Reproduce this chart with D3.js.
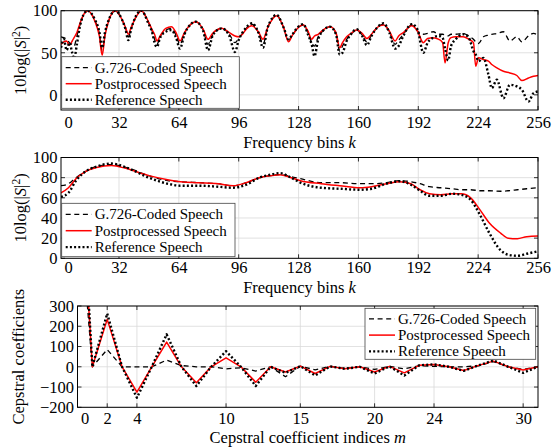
<!DOCTYPE html>
<html><head><meta charset="utf-8">
<script src="https://cdn.jsdelivr.net/npm/d3@7"></script>
<style>body{margin:0;background:#fff}svg{display:block}text{font-family:"Liberation Serif","DejaVu Serif",serif;fill:#000}</style>
</head><body>
<script>
// ---- Data ----
const seriesNames = ["G.726-Coded Speech", "Postprocessed Speech", "Reference Speech"];

// Panel 1: 10log(|S|^2) vs frequency bins k
const kTop = [1,2.5,4,5.5,7,8,9.5,11,13,15.3,19,21.5,23,24.5,26.5,30,33.5,35.5,37,38.5,40.5,44,47.5,50,51,52.3,54,57,60,62.5,64.6,67,70,73,77,79.6,82,84,87,91,94,96,98,100,103,106.5,109,111.5,116.3,120,122.6,124.5,127,130.5,133,135,136.5,138.5,141,144.8,148,150,151.5,153.7,156,159,162,164.5,167,170,173.4,176.5,179.6,181.5,184,188.5,191.5,194.7,197,200,203,205,206.3,208,209.5,212,216,219,221.5,222.7,224.2,226.8,229.5,231.3,234,237.5,241,244.7,247.4,250.9,253.6,256];
const topPost = [60,63,64,59,64,68,74,84,95,100,88,70,47,70,88,100,90,80,72,80,90,100,88,76,72,64,70,79,81,74,64,74,83,87,78,66,73,77,79,74,70,69,72,78,82,75,66,80,94,80,63,70,78,83,76,66,70,72,77,81,74,56,62,69,73,77,73,67,72,80,83,76,64,70,74,82,76,62,67,68,66,62,38,62,68,69,69,66,62,34,44,42,40,36,32,28,26,23,17,20,22,23];
const topRef = [56,66,53,62,50,43,60,80,95,100,90,75,56,74,89,100,90,78,65,78,91,100,86,72,62,57,68,75,77,68,55,72,83,87,76,53,70,76,79,70,51,65,74,80,85,74,56,80,95,80,66,71,79,84,72,60,46,66,76,81,72,48,50,64,72,78,70,59,70,80,85,74,55,58,70,84,78,50,62,68,70,68,55,41,58,66,72,68,52,48,40,44,24,8,18,-4,12,10,6,-8,2,4];
const topCoded = [69,68,66,62,60,58,70,82,95,100,89,73,52,72,88,100,90,79,69,79,90,100,87,74,66,60,69,77,79,71,60,73,83,87,77,60,71,76,79,72,62,67,73,79,84,74,60,80,94,80,65,70,78,83,74,62,58,69,76,81,73,52,58,66,72,77,71,63,71,80,84,75,60,65,72,83,76,72,73,75,72,72,71,70,72,72,73,70,66,63,61,69,71,72,73,75,64,69,63,70,73,71];

// Panel 2: smoothed envelope
const kMid = [1,5,9,14,20,28,36,48,58,65,75,85,93,100,107,113,118,124,129,140,150,161,167,175,182,188,193,198,204,210,215,220,225,230,236,240,245,250,256];
const midPost = [65,70,79,86,90,92,89,82,78,76,75,74,72,75,80,82,83,80,77,74,72,70,71,74,76,74,68,64,63,64,64,60,48,35,25,20,19.5,21.5,22];
const midRef = [61,65,77,86,91,94,90,80,74,72,72,71,70,73,80,83,84.5,80,75,70,69,68,69,74,76.5,73,67,62,62,64,63,58,43,25,8,3.5,2.5,4.5,7];
const midCoded = [72,74,80,86,91,93,90,82,77,76,75,74,72,75,80,82,83,81,79,75,75,74,74,75,77,76,74,71,70,69,68,68,67,67,66.5,67,68,69,70];

// Panel 3: cepstral coefficients c(m), m = 0..31
const mIdx = d3.range(0, 32);
const cepPost = [1200,0,234,0,-125,0,122,0,-79,0,44,0,-76,0,-26,3,-33,2,-10,0,-26,2,-30,7,11,0,-18,7,28,0,-16,0];
const cepRef = [1300,0,263,0,-153,0,160,0,-95,0,77,0,-95,0,-30,3,-43,2,-10,0,-33,2,-43,7,12,0,-20,7,31,0,-30,0];
const cepCoded = [900,0,85,0,0,0,33,6,0,0,-10,-5,-21,0,-49,3,-15,2,-8,0,-13,2,-10,5,2,0,0,5,25,0,-13,0];

const freqTicks = [0,32,64,96,128,160,192,224,256];
const cepTicks = [0,2,4,10,15,20,24,30];

// ---- Drawing ----
const W = 560, H = 447;
const svg = d3.select("body").append("svg").attr("width", W).attr("height", H);

const styles = {
  coded: {stroke:"#000", width:1.3, dash:"5,3.6"},
  post:  {stroke:"#ff0000", width:1.5, dash:null},
  ref:   {stroke:"#000", width:2.4, dash:"2,2.2"}
};

let clipId = 0;
function panel(o) {
  const g = svg.append("g");
  const x = d3.scaleLinear().domain(o.xDomain).range([o.box.x0, o.box.x1]);
  const y = d3.scaleLinear().domain(o.yDomain).range([o.box.y1, o.box.y0]);
  const xIn = o.xTicks.filter(v => v >= o.xDomain[0] && v <= o.xDomain[1]);
  const yIn = o.yTicks.filter(v => v >= o.yDomain[0] && v <= o.yDomain[1]);
  // grid
  g.append("g").selectAll("line").data(xIn).join("line")
    .attr("x1", d => x(d)).attr("x2", d => x(d)).attr("y1", o.box.y0).attr("y2", o.box.y1)
    .attr("stroke", "#d9d9d9").attr("stroke-width", 0.8);
  g.append("g").selectAll("line").data(yIn).join("line")
    .attr("y1", d => y(d)).attr("y2", d => y(d)).attr("x1", o.box.x0).attr("x2", o.box.x1)
    .attr("stroke", "#d9d9d9").attr("stroke-width", 0.8);
  // curves
  const id = "clip" + (clipId++);
  g.append("clipPath").attr("id", id).append("rect")
    .attr("x", o.box.x0).attr("y", o.box.y0).attr("width", o.box.x1 - o.box.x0).attr("height", o.box.y1 - o.box.y0);
  const cg = g.append("g").attr("clip-path", `url(#${id})`);
  const order = ["coded", "post", "ref"];
  order.forEach(key => {
    const vals = o.series[key];
    const line = d3.line().x((d, i) => x(o.xs[i])).y(d => y(d)).curve(o.curve);
    const st = styles[key];
    cg.append("path").datum(vals).attr("d", line).attr("fill", "none")
      .attr("stroke", st.stroke).attr("stroke-width", st.width)
      .attr("stroke-dasharray", st.dash).attr("stroke-linejoin", "round");
  });
  // inward ticks on all sides
  const tl = 4;
  const tg = g.append("g").attr("stroke", "#000").attr("stroke-width", 0.8);
  xIn.forEach(v => {
    tg.append("line").attr("x1", x(v)).attr("x2", x(v)).attr("y1", o.box.y1).attr("y2", o.box.y1 - tl);
    tg.append("line").attr("x1", x(v)).attr("x2", x(v)).attr("y1", o.box.y0).attr("y2", o.box.y0 + tl);
  });
  yIn.forEach(v => {
    tg.append("line").attr("y1", y(v)).attr("y2", y(v)).attr("x1", o.box.x0).attr("x2", o.box.x0 + tl);
    tg.append("line").attr("y1", y(v)).attr("y2", y(v)).attr("x1", o.box.x1).attr("x2", o.box.x1 - tl);
  });
  // box
  g.append("rect").attr("x", o.box.x0).attr("y", o.box.y0)
    .attr("width", o.box.x1 - o.box.x0).attr("height", o.box.y1 - o.box.y0)
    .attr("fill", "none").attr("stroke", "#000").attr("stroke-width", 1);
  // tick labels via d3 axes (no tick lines)
  const xa = g.append("g").attr("transform", `translate(0,${o.xLabelY})`)
    .call(d3.axisBottom(x).tickValues(o.xTicks).tickSize(0).tickPadding(0).tickFormat(d3.format("d")));
  xa.select(".domain").remove();
  xa.selectAll("text").attr("font-size", o.fs).attr("dy", "0.35em").attr("font-family", "Liberation Serif")
    .attr("dx", d => d === 0 ? o.zeroShift : 0);
  const ya = g.append("g").attr("transform", `translate(${o.box.x0 - 3.5},0)`)
    .call(d3.axisLeft(y).tickValues(o.yTicks).tickSize(0).tickPadding(0).tickFormat(d3.format("d")));
  ya.select(".domain").remove();
  ya.selectAll("text").attr("font-size", o.fs).attr("font-family", "Liberation Serif");
  // axis titles
  const xt = g.append("text").attr("x", (o.box.x0 + o.box.x1) / 2).attr("y", o.xTitleY)
    .attr("text-anchor", "middle").attr("font-size", o.fs);
  o.xTitle.forEach(p => xt.append("tspan").text(p[0]).attr("font-style", p[1] ? "italic" : null));
  const yt = g.append("text").attr("transform", `translate(${o.yTitleX},${(o.box.y0 + o.box.y1) / 2}) rotate(-90)`)
    .attr("text-anchor", "middle").attr("font-size", o.fs);
  o.yTitle.forEach(p => {
    const t = yt.append("tspan").text(p[0]);
    if (p[1] === "i") t.attr("font-style", "italic");
    if (p[1] === "sup") t.attr("baseline-shift", "super").attr("font-size", o.fs * 0.7);
  });
  // legend
  const L = o.legend;
  const lg = g.append("g");
  lg.append("rect").attr("x", L.x).attr("y", L.y).attr("width", L.w).attr("height", L.h)
    .attr("fill", "#fff").attr("stroke", "#444").attr("stroke-width", 0.8);
  ["coded", "post", "ref"].forEach((key, i) => {
    const st = styles[key];
    const cy = L.y + L.row0 + i * L.dy;
    lg.append("line").attr("x1", L.x + 4).attr("x2", L.x + 30).attr("y1", cy).attr("y2", cy)
      .attr("stroke", st.stroke).attr("stroke-width", st.width).attr("stroke-dasharray", st.dash);
    lg.append("text").attr("x", L.x + 33).attr("y", cy).attr("dy", "0.33em")
      .attr("font-size", L.fs).text(seriesNames[i]);
  });
}

const ylab = [["10log(|"], ["S", "i"], ["|"], ["2", "sup"], [")"]];

panel({
  box: {x0: 61, x1: 538, y0: 10.7, y1: 110},
  xDomain: [1, 256], yDomain: [-18, 100],
  xTicks: freqTicks, yTicks: [0, 50, 100], zeroShift: 9,
  xs: kTop, series: {coded: topCoded, post: topPost, ref: topRef}, curve: d3.curveMonotoneX,
  fs: 16.5, xLabelY: 122.5, xTitleY: 148, yTitleX: 26,
  xTitle: [["Frequency bins "], ["k", true]], yTitle: ylab,
  legend: {x: 61.7, y: 56.7, w: 177.6, h: 51.6, row0: 11, dy: 16, fs: 15}
});
panel({
  box: {x0: 61, x1: 538, y0: 157.5, y1: 258.3},
  xDomain: [1, 256], yDomain: [0, 100],
  xTicks: freqTicks, yTicks: [0, 20, 40, 60, 80, 100], zeroShift: 9,
  xs: kMid, series: {coded: midCoded, post: midPost, ref: midRef}, curve: d3.curveMonotoneX,
  fs: 16.5, xLabelY: 267.5, xTitleY: 293, yTitleX: 26,
  xTitle: [["Frequency bins "], ["k", true]], yTitle: ylab,
  legend: {x: 61.7, y: 203.3, w: 173.3, h: 53.4, row0: 11, dy: 16.4, fs: 15}
});
panel({
  box: {x0: 77.5, x1: 538, y0: 306, y1: 407.3},
  xDomain: [0, 31], yDomain: [-200, 300],
  xTicks: cepTicks, yTicks: [-200, -100, 0, 100, 200, 300], zeroShift: 7,
  xs: mIdx, series: {coded: cepCoded, post: cepPost, ref: cepRef}, curve: d3.curveLinear,
  fs: 16.5, xLabelY: 418, xTitleY: 443, yTitleX: 24,
  xTitle: [["Cepstral coefficient indices "], ["m", true]], yTitle: [["Cepstral coefficients"]],
  legend: {x: 365, y: 308.3, w: 170.7, h: 51, row0: 10.5, dy: 16.3, fs: 15}
});
</script>
</body></html>
